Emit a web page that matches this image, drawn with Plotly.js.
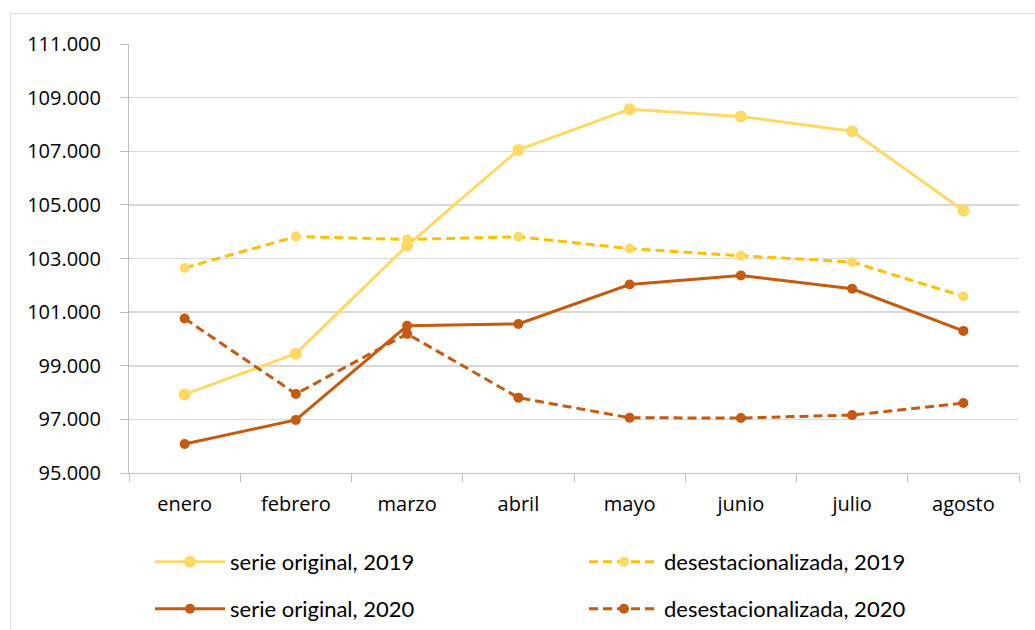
<!DOCTYPE html>
<html>
<head>
<meta charset="utf-8">
<script src="https://cdn.plot.ly/plotly-3.0.1.min.js"></script>
<style>
  html, body { margin: 0; padding: 0; background: #ffffff; }
  #wrap { position: relative; width: 1035px; height: 630px; overflow: hidden; }
  #frame { position: absolute; left: 10px; top: 13px; width: 1100px; height: 700px;
           border-left: 1px solid #D9D9D9; border-top: 1px solid #D9D9D9; pointer-events: none; }
  #chart { position: absolute; left: 0; top: 0; width: 1035px; height: 630px; }
</style>
</head>
<body>
<div id="wrap">
  <div id="chart"></div>
  <div id="frame"></div>
</div>
<script>
const months = ["enero", "febrero", "marzo", "abril", "mayo", "junio", "julio", "agosto"];

const serieOriginal2019 = [97930, 99450, 103480, 107050, 108570, 108300, 107750, 104790];
const desestacionalizada2019 = [102650, 103820, 103710, 103810, 103370, 103100, 102870, 101590];
const serieOriginal2020 = [96080, 96980, 100490, 100560, 102030, 102370, 101870, 100300];
const desestacionalizada2020 = [100760, 97950, 100190, 97810, 97060, 97050, 97160, 97610];

const yTicks = [95000, 97000, 99000, 101000, 103000, 105000, 107000, 109000, 111000];

const names = ["serie original, 2019", "desestacionalizada, 2019", "serie original, 2020", "desestacionalizada, 2020"];

const light = "#FFD966", gold = "#FFC000", rust = "#C55A11";

const traces = [
  { x: months, y: serieOriginal2019, name: names[0], type: "scatter", mode: "lines+markers",
    line: { color: light, width: 3 }, marker: { color: light, size: 12 }, legend: "legend" },
  { x: months, y: desestacionalizada2019, name: names[1], type: "scatter", mode: "lines+markers",
    line: { color: gold, width: 3, dash: "9px,5px" }, marker: { color: light, size: 10 }, legend: "legend2" },
  { x: months, y: serieOriginal2020, name: names[2], type: "scatter", mode: "lines+markers",
    line: { color: rust, width: 3 }, marker: { color: rust, size: 10 }, legend: "legend3" },
  { x: months, y: desestacionalizada2020, name: names[3], type: "scatter", mode: "lines+markers",
    line: { color: rust, width: 3, dash: "9px,5px" }, marker: { color: rust, size: 10 }, legend: "legend4" }
];

const W = 1035, H = 630;
const L = 129, R = 1019, T = 44, B = 473;
const legFont = { family: "Lato, 'Liberation Sans', sans-serif", size: 22, color: "#000000" };
function leg(X, Y) {
  return { xref: "container", yref: "container", x: X / W, y: 1 - Y / H,
           xanchor: "left", yanchor: "middle", orientation: "h",
           font: legFont, itemwidth: 70, bgcolor: "rgba(0,0,0,0)", borderwidth: 0, itemclick: false };
}

const tickFont = { family: "'Open Sans', sans-serif", size: 20, color: "#000000" };

const layout = {
  width: W, height: H,
  margin: { l: L, r: W - R, t: T, b: H - B, pad: 0, autoexpand: false },
  paper_bgcolor: "rgba(0,0,0,0)", plot_bgcolor: "#ffffff",
  separators: ",.",
  showlegend: true,
  font: { family: "'Open Sans', sans-serif", color: "#000000" },
  xaxis: {
    type: "category", range: [-0.5, 7.5], tickson: "boundaries",
    ticks: "outside", ticklen: 8, tickcolor: "#BFBFBF", tickwidth: 1,
    showline: true, linecolor: "#BFBFBF", linewidth: 1,
    showgrid: false, zeroline: false,
    tickfont: tickFont,
    ticklabelstandoff: 13
  },
  yaxis: {
    range: [95000, 111000], tickvals: yTicks, tickformat: ",d",
    ticks: "outside", ticklen: 8, tickcolor: "#BFBFBF", tickwidth: 1,
    showline: true, linecolor: "#BFBFBF", linewidth: 1,
    showgrid: true, gridcolor: "#D9D9D9", gridwidth: 1.5, zeroline: false,
    tickfont: tickFont,
    ticklabelstandoff: 15
  },
  legend: leg(150, 562),
  legend2: leg(584, 562),
  legend3: leg(150, 609),
  legend4: leg(584, 609)
};

Plotly.newPlot("chart", traces, layout, { displayModeBar: false, staticPlot: true });
</script>
</body>
</html>
